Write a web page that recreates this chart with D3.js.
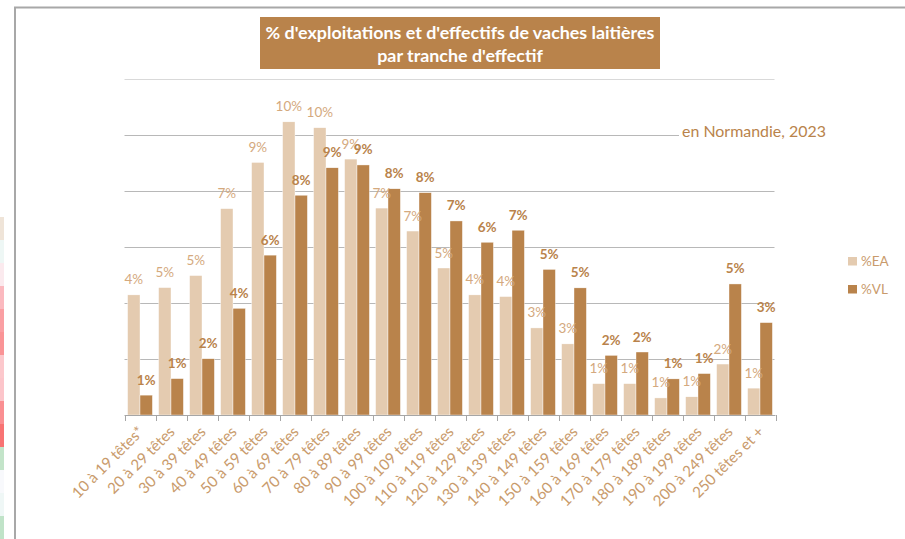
<!DOCTYPE html>
<html><head><meta charset="utf-8">
<script src="https://cdn.jsdelivr.net/npm/d3@7"></script>
<style>html,body{margin:0;padding:0;background:#fff;}svg{display:block;}</style>
</head><body>
<svg id="c" width="905" height="539"></svg>
<script>
const categories = ["10 à 19 têtes*","20 à 29 têtes","30 à 39 têtes","40 à 49 têtes","50 à 59 têtes","60 à 69 têtes","70 à 79 têtes","80 à 89 têtes","90 à 99 têtes","100 à 109 têtes","110 à 119 têtes","120 à 129 têtes","130 à 139 têtes","140 à 149 têtes","150 à 159 têtes","160 à 169 têtes","170 à 179 têtes","180 à 189 têtes","190 à 199 têtes","200 à 249 têtes","250 têtes et +"];
const pctEA = [4.29,4.55,4.98,7.37,9.02,10.47,10.26,9.14,7.39,6.57,5.25,4.29,4.23,3.11,2.54,1.12,1.12,0.61,0.65,1.82,0.96];
const pctVL = [0.71,1.30,2.01,3.81,5.71,7.85,8.83,8.93,8.08,7.94,6.93,6.17,6.60,5.20,4.54,2.13,2.25,1.29,1.48,4.68,3.30];
const seriesNames = ["%EA","%VL"];
const yTicks = [0,2,4,6,8,10,12];
const titleLines = ["% d'exploitations et d'effectifs de vaches laitières","par tranche d'effectif"];
const subtitle = "en Normandie, 2023";
const stripColors = ["#efe4d8","#eef7f5","#fbeaee","#fbb9bf","#fa9fa3","#fa9496","#fcc8cc","#fcc5ca","#fa8f92","#f87373","#c3e4c9","#f8f9fc","#eff7f6","#c0e3c8"];

const colEA = "#e4cbb0", colVL = "#b9834b";
const labEA = "#d4a97e", labVL = "#b9834b", axisTxt = "#c99b6c";
const FONT = "Lato, 'Open Sans', sans-serif";

const svg = d3.select("#c");

// left decorative strips
const stripY = d3.scaleBand().domain(d3.range(stripColors.length)).range([217, 539]);
svg.selectAll("rect.strip").data(stripColors).join("rect")
  .attr("x",0).attr("y",(d,i)=>stripY(i)).attr("width",4).attr("height",stripY.bandwidth()+0.5)
  .attr("fill",d=>d);
// frame lines
svg.append("path").attr("d","M15,539 V7.5 H905").attr("fill","none").attr("stroke","#a8a8a8").attr("stroke-width",2);

const L = 124.5, R = 775.5, B = 415, T = 79;
const x = d3.scaleBand().domain(categories).range([L,R]).paddingInner(0.2).paddingOuter(0.1);
const xs = d3.scaleBand().domain(seriesNames).range([0,x.bandwidth()]);
const y = d3.scaleLinear().domain([0,12]).range([B,T]);

// gridlines
svg.append("g").selectAll("line").data(yTicks.filter(d=>d>0)).join("line")
  .attr("x1",L).attr("x2",R-1).attr("y1",d=>Math.round(y(d))+0.5).attr("y2",d=>Math.round(y(d))+0.5)
  .attr("stroke",d=>d===12?"#d9d9d9":"#b8b8b8").attr("stroke-width",1);

// bars
const data = categories.map((c,i)=>({c, v:[pctEA[i],pctVL[i]]}));
const g = svg.append("g");
const grp = g.selectAll("g").data(data).join("g").attr("transform",d=>`translate(${x(d.c)},0)`);
grp.selectAll("rect").data(d=>d.v.map((v,k)=>({k,v}))).join("rect")
  .attr("x",d=>xs(seriesNames[d.k])).attr("width",xs.bandwidth())
  .attr("y",d=>y(d.v)).attr("height",d=>B-y(d.v))
  .attr("fill",d=>d.k===0?colEA:colVL).attr("stroke","#fff").attr("stroke-width",0.4);
grp.selectAll("text").data(d=>d.v.map((v,k)=>({k,v}))).join("text")
  .attr("x",d=>xs(seriesNames[d.k])+xs.bandwidth()/2).attr("y",d=>y(d.v)-10.5)
  .attr("text-anchor","middle").attr("font-family",FONT).attr("font-size",13.5)
  .attr("font-weight",d=>d.k===1?"bold":"normal")
  .attr("fill",d=>d.k===0?labEA:labVL)
  .text(d=>Math.round(d.v)+"%");

// x axis
const ax = svg.append("g").attr("transform",`translate(0,${B+0.5})`)
  .call(d3.axisBottom(x).tickSize(0).tickFormat(""));
ax.select(".domain").attr("stroke","#a6a6a6").attr("d",`M${L},0H${R}`);
const bounds = d3.range(categories.length+1).map(i=>L+i*x.step());
svg.append("g").selectAll("line").data(bounds).join("line")
  .attr("x1",d=>Math.round(d)+0.5).attr("x2",d=>Math.round(d)+0.5).attr("y1",B).attr("y2",B+6)
  .attr("stroke","#a6a6a6");
const xl = svg.append("g").selectAll("text").data(categories).join("text")
  .attr("transform",d=>`translate(${x(d)+x.bandwidth()/2+1},${B+14}) rotate(-45)`)
  .attr("text-anchor","end").attr("dy","0.35em")
  .attr("font-family",FONT).attr("font-size",13).attr("fill",axisTxt)
  .text(d=>d);
const wl = xl.nodes()[0].getComputedTextLength();
xl.attr("font-size",13*94/wl);

// title box
svg.append("rect").attr("x",260).attr("y",17).attr("width",400).attr("height",52).attr("fill","#b9834b");
const tt = svg.append("g").selectAll("text").data(titleLines).join("text")
  .attr("x",460).attr("y",(d,i)=>i===0?39:62).attr("text-anchor","middle")
  .attr("font-family",FONT).attr("font-weight","bold").attr("font-size",16).attr("fill","#fff")
  .text(d=>d);
const t0 = tt.nodes()[0];
const w0 = t0.getComputedTextLength();
tt.attr("font-size",16*389/w0);

// subtitle
svg.append("rect").attr("x",679).attr("y",121).attr("width",152).attr("height",20).attr("fill","#fff");
const st = svg.append("text").attr("x",682).attr("y",137).attr("font-family",FONT)
  .attr("font-size",16).attr("fill","#b9834b").text(subtitle);
st.attr("font-size",16*144/st.node().getComputedTextLength());

// legend
const lg = svg.append("g").selectAll("g").data(seriesNames).join("g")
  .attr("transform",(d,i)=>`translate(848,${257+i*28})`);
lg.append("rect").attr("width",9).attr("height",8.5).attr("fill",(d,i)=>i===0?colEA:colVL);
lg.append("text").attr("x",13).attr("y",8.5).attr("font-family",FONT).attr("font-size",13.5)
  .attr("fill","#c99b6c").text(d=>d);
</script>
</body></html>
